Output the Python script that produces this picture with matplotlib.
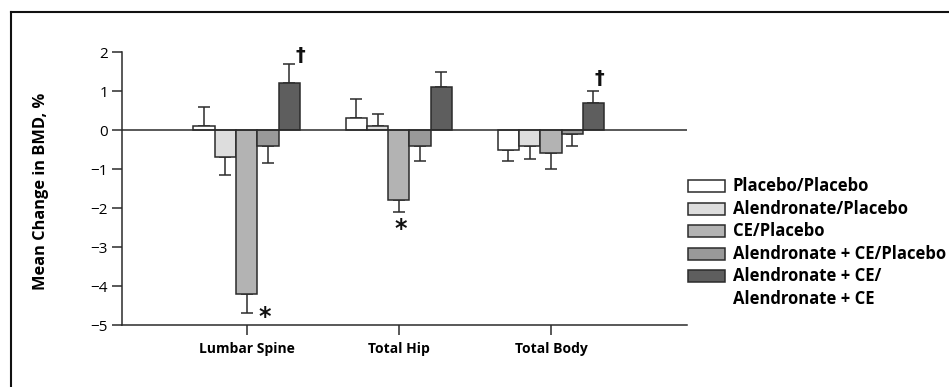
import numpy as np
import matplotlib
matplotlib.use('Agg')
import matplotlib.pyplot as plt
from matplotlib.lines import Line2D
from matplotlib.patches import Rectangle

plt.rcParams['font.family'] = ['Open Sans', 'DejaVu Sans']

# data
sites = ['Lumbar Spine', 'Total Hip', 'Total Body']
groups = ['Placebo/Placebo', 'Alendronate/Placebo', 'CE/Placebo',
          'Alendronate + CE/Placebo', 'Alendronate + CE/\nAlendronate + CE']
colors = ['#ffffff', '#dddddd', '#b3b3b3', '#999999', '#5e5e5e']

means = [[0.1, -0.7, -4.2, -0.4, 1.2],     # Lumbar Spine
         [0.3, 0.1, -1.8, -0.4, 1.1],      # Total Hip
         [-0.5, -0.4, -0.6, -0.1, 0.7]]    # Total Body
errs = [[0.5, 0.45, 0.5, 0.45, 0.5],
        [0.5, 0.3, 0.3, 0.4, 0.4],
        [0.3, 0.35, 0.4, 0.3, 0.3]]

# significance marks: (site index, x offset, y, symbol)
marks = [(0, 0.12, -4.8, '*'), (1, 0.01, -2.55, '*'),
         (0, 0.355, 1.92, '†'), (2, 0.32, 1.33, '†')]

ink = '#2b2b2b'
w = 0.14
x = np.arange(len(sites))

fig = plt.figure(figsize=(9.49, 3.87), dpi=100)
ax = fig.add_axes([122/949, 62/387, 565/949, 273/387])

means = np.array(means)
errs = np.array(errs)
for j in range(len(groups)):
    pos = x + (j - 2) * w
    vals = means[:, j]
    ax.bar(pos, vals, w, color=colors[j], edgecolor=ink, linewidth=1.1, zorder=3)
    # one sided error bars, pointing away from zero
    lower = np.where(vals < 0, errs[:, j], 0)
    upper = np.where(vals >= 0, errs[:, j], 0)
    ax.errorbar(pos, vals, yerr=[lower, upper], fmt='none', ecolor=ink,
                elinewidth=1.1, capsize=4.3, capthick=1.1, zorder=2)

ax.axhline(0, color=ink, linewidth=1.1, zorder=4)

for i, dx, y, s in marks:
    if s == '*':
        ax.text(x[i] + dx, y, s, ha='center', va='center', fontsize=17,
                fontweight='bold', color='#111111', family=['DejaVu Sans'])
    else:
        ax.text(x[i] + dx, y, s, ha='center', va='center', fontsize=14,
                fontweight='bold', color='#111111', family=['DejaVu Sans'])

ax.set_xlim(-0.82, 2.895)
ax.set_ylim(-5, 2)
ax.set_yticks(range(-5, 3))
ax.set_xticks(x)
ax.set_xticklabels(sites, fontsize=10, fontweight='bold')
ax.tick_params(axis='y', length=7, width=1.1, color=ink, labelsize=11, pad=3)
ax.tick_params(axis='x', length=7, width=1.1, color=ink, pad=5)
for s in ['top', 'right']:
    ax.spines[s].set_visible(False)
for s in ['left', 'bottom']:
    ax.spines[s].set_color(ink)
    ax.spines[s].set_linewidth(1.1)

ax.set_ylabel('Mean Change in BMD, %', fontsize=11.8, fontweight='bold')
ax.yaxis.set_label_coords(-0.13, 0.49)

# legend drawn by hand so the two line label hangs from its box
lx, ly, dy = 688/949, 1 - 186/387, 22.6/387
row = 0
for lab, c in zip(groups, colors):
    yy = ly - row * dy
    fig.add_artist(Rectangle((lx, yy - 6/387), 37/949, 12/387, transform=fig.transFigure,
                             facecolor=c, edgecolor=ink, linewidth=1.1))
    for line in lab.split('\n'):
        fig.text(733/949, ly - row * dy, line, ha='left', va='center',
                 fontsize=12, fontweight='bold')
        row += 1

# frame lines along top and left edge
fig.add_artist(Line2D([11/949, 1], [1 - 12/387] * 2, color='#111111', linewidth=1.5))
fig.add_artist(Line2D([11/949] * 2, [0, 1 - 12/387], color='#111111', linewidth=1.5))

plt.savefig('out.png', dpi=100)
